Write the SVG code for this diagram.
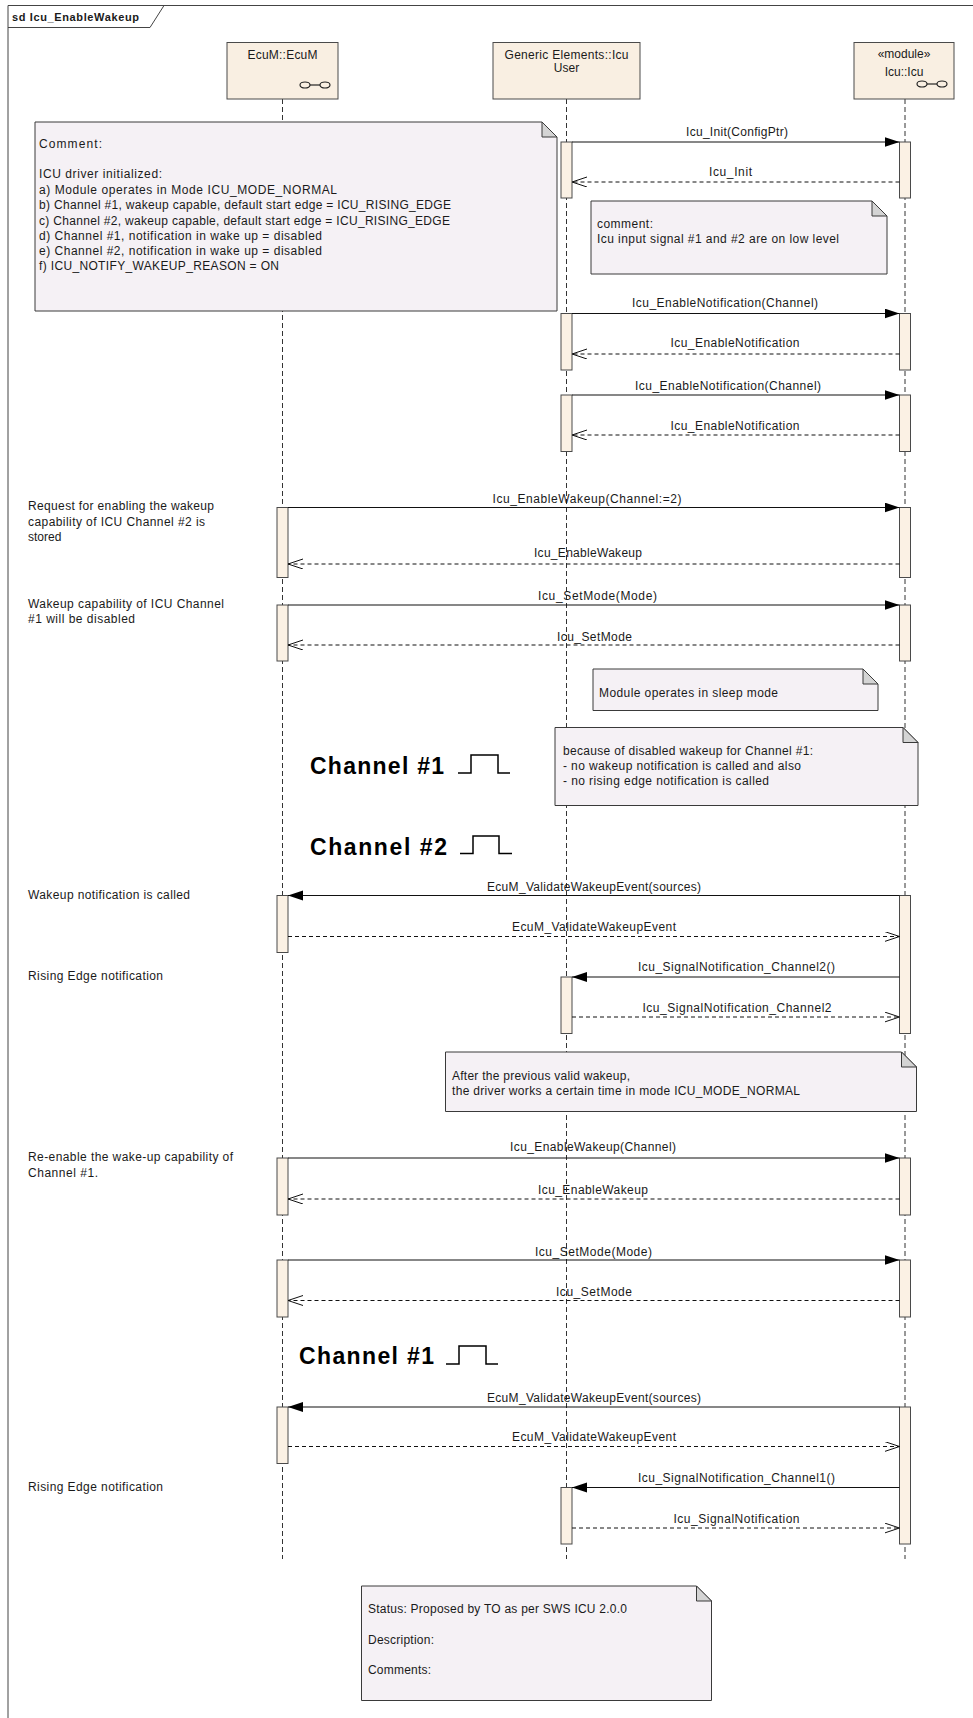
<svg xmlns="http://www.w3.org/2000/svg" width="973" height="1718" viewBox="0 0 973 1718">
<style>
text{font-family:"Liberation Sans",Arial,sans-serif;font-size:12px;fill:#1a1a1a}
.c{text-anchor:middle}
.title{font-weight:bold;font-size:11px}
.big{font-weight:bold;font-size:23px;fill:#000}
.hdr{fill:#F9EFE2;stroke:#4a4a4a;stroke-width:1}
.act{fill:#FBF1E4;stroke:#4a4a4a;stroke-width:1}
.note{fill:#F5F1F5;stroke:#3a3a3a;stroke-width:1}
.fold{fill:#D4D4D4;stroke:#3a3a3a;stroke-width:1}
.life{stroke:#333;stroke-width:1;stroke-dasharray:5,3;fill:none}
.call{stroke:#111;stroke-width:1.2;fill:none;marker-end:url(#fill)}
.ret{stroke:#111;stroke-width:1;fill:none;stroke-dasharray:4,3;marker-end:url(#open)}
.pulse{stroke:#000;stroke-width:1.5;fill:none}
.icon{fill:none;stroke:#222;stroke-width:1.2}
</style>
<defs>
<marker id="fill" markerUnits="userSpaceOnUse" markerWidth="16" markerHeight="12" refX="15" refY="5" orient="auto">
<path d="M0,0 L15,5 L0,10 z" fill="#000" stroke="none"/>
</marker>
<marker id="open" markerUnits="userSpaceOnUse" markerWidth="16" markerHeight="12" refX="15" refY="5" orient="auto">
<path d="M0,0 L15,5 L0,10" fill="none" stroke="#111" stroke-width="1" stroke-dasharray="none"/>
</marker>
</defs>
<rect x="0" y="0" width="973" height="1718" fill="#fff"/>

<g id="frame">
<path d="M8,1718 L8,5.5 L973,5.5" fill="none" stroke="#444" stroke-width="1"/>
<path d="M8,27.5 L150,27.5 L164,5.5" fill="none" stroke="#444" stroke-width="1"/>
<text class="title" x="12" y="21" textLength="127">sd Icu_EnableWakeup</text>
</g>

<g id="lifelines">
<line class="life" x1="282.5" y1="99" x2="282.5" y2="1559"/>
<line class="life" x1="566.5" y1="99" x2="566.5" y2="1559"/>
<line class="life" x1="905" y1="99" x2="905" y2="1559"/>
</g>

<g id="EcuM">
<rect class="hdr" x="227" y="42.5" width="111" height="56.5"/>
<text class="c" x="282.5" y="59" textLength="70">EcuM::EcuM</text>
<ellipse class="icon" cx="305" cy="85" rx="5" ry="3"/>
<ellipse class="icon" cx="325" cy="85" rx="5" ry="3"/>
<line class="icon" x1="310" y1="85" x2="320" y2="85"/>
</g>
<g id="IcuUser">
<rect class="hdr" x="493" y="42.5" width="147" height="56.5"/>
<text class="c" x="566.5" y="59" textLength="124">Generic Elements::Icu</text>
<text class="c" x="566.5" y="72">User</text>
</g>
<g id="Icu">
<rect class="hdr" x="854" y="42.5" width="100" height="56.5"/>
<text class="c" x="904" y="58">«module»</text>
<text class="c" x="904" y="76">Icu::Icu</text>
<ellipse class="icon" cx="922" cy="84" rx="5" ry="3"/>
<ellipse class="icon" cx="942" cy="84" rx="5" ry="3"/>
<line class="icon" x1="927" y1="84" x2="937" y2="84"/>
</g>

<g id="activations">
<rect class="act" x="561" y="142" width="11" height="56"/>
<rect class="act" x="561" y="313.5" width="11" height="56.5"/>
<rect class="act" x="561" y="395" width="11" height="56.5"/>
<rect class="act" x="561" y="977" width="11" height="56.5"/>
<rect class="act" x="561" y="1487.5" width="11" height="56.5"/>
<rect class="act" x="899.5" y="142" width="11" height="56"/>
<rect class="act" x="899.5" y="313.5" width="11" height="56.5"/>
<rect class="act" x="899.5" y="395" width="11" height="56.5"/>
<rect class="act" x="899.5" y="507.5" width="11" height="70"/>
<rect class="act" x="899.5" y="605" width="11" height="56"/>
<rect class="act" x="899.5" y="895.5" width="11" height="138"/>
<rect class="act" x="899.5" y="1158" width="11" height="57"/>
<rect class="act" x="899.5" y="1260" width="11" height="57"/>
<rect class="act" x="899.5" y="1407" width="11" height="137"/>
<rect class="act" x="277" y="507.5" width="11" height="70"/>
<rect class="act" x="277" y="605" width="11" height="56"/>
<rect class="act" x="277" y="895.5" width="11" height="57"/>
<rect class="act" x="277" y="1158" width="11" height="57"/>
<rect class="act" x="277" y="1260" width="11" height="57"/>
<rect class="act" x="277" y="1407" width="11" height="56.5"/>
</g>

<g id="connectors">
<line class="call" x1="572" y1="142" x2="899.5" y2="142"/>
<text class="c" x="737" y="136" textLength="102">Icu_Init(ConfigPtr)</text>
<line class="ret" x1="899.5" y1="182" x2="572" y2="182"/>
<text class="c" x="730.5" y="176" textLength="43">Icu_Init</text>

<line class="call" x1="572" y1="313.5" x2="899.5" y2="313.5"/>
<text class="c" x="725" y="307" textLength="186">Icu_EnableNotification(Channel)</text>
<line class="ret" x1="899.5" y1="354" x2="572" y2="354"/>
<text class="c" x="735" y="346.5" textLength="129">Icu_EnableNotification</text>

<line class="call" x1="572" y1="395" x2="899.5" y2="395"/>
<text class="c" x="728" y="390" textLength="186">Icu_EnableNotification(Channel)</text>
<line class="ret" x1="899.5" y1="435" x2="572" y2="435"/>
<text class="c" x="735" y="430" textLength="129">Icu_EnableNotification</text>

<line class="call" x1="288" y1="507.5" x2="899.5" y2="507.5"/>
<text class="c" x="587" y="503" textLength="189">Icu_EnableWakeup(Channel:=2)</text>
<line class="ret" x1="899.5" y1="564" x2="288" y2="564"/>
<text class="c" x="588" y="557" textLength="108">Icu_EnableWakeup</text>

<line class="call" x1="288" y1="605" x2="899.5" y2="605"/>
<text class="c" x="597.5" y="599.5" textLength="119">Icu_SetMode(Mode)</text>
<line class="ret" x1="899.5" y1="645" x2="288" y2="645"/>
<text class="c" x="594.5" y="640.5" textLength="75">Icu_SetMode</text>

<line class="call" x1="899.5" y1="895.5" x2="288" y2="895.5"/>
<text class="c" x="594" y="890.5" textLength="214">EcuM_ValidateWakeupEvent(sources)</text>
<line class="ret" x1="288" y1="936.5" x2="899.5" y2="936.5"/>
<text class="c" x="594" y="930.5" textLength="164">EcuM_ValidateWakeupEvent</text>

<line class="call" x1="899.5" y1="977" x2="572" y2="977"/>
<text class="c" x="736.5" y="971" textLength="197">Icu_SignalNotification_Channel2()</text>
<line class="ret" x1="572" y1="1017" x2="899.5" y2="1017"/>
<text class="c" x="737" y="1011.5" textLength="189">Icu_SignalNotification_Channel2</text>

<line class="call" x1="288" y1="1158" x2="899.5" y2="1158"/>
<text class="c" x="593" y="1151" textLength="166">Icu_EnableWakeup(Channel)</text>
<line class="ret" x1="899.5" y1="1199" x2="288" y2="1199"/>
<text class="c" x="593" y="1194" textLength="110">Icu_EnableWakeup</text>

<line class="call" x1="288" y1="1260" x2="899.5" y2="1260"/>
<text class="c" x="593.5" y="1255.5" textLength="117">Icu_SetMode(Mode)</text>
<line class="ret" x1="899.5" y1="1300.5" x2="288" y2="1300.5"/>
<text class="c" x="594" y="1295.5" textLength="76">Icu_SetMode</text>

<line class="call" x1="899.5" y1="1407" x2="288" y2="1407"/>
<text class="c" x="594" y="1401.5" textLength="214">EcuM_ValidateWakeupEvent(sources)</text>
<line class="ret" x1="288" y1="1446.5" x2="899.5" y2="1446.5"/>
<text class="c" x="594" y="1441" textLength="164">EcuM_ValidateWakeupEvent</text>

<line class="call" x1="899.5" y1="1487.5" x2="572" y2="1487.5"/>
<text class="c" x="736.5" y="1482" textLength="197">Icu_SignalNotification_Channel1()</text>
<line class="ret" x1="572" y1="1528" x2="899.5" y2="1528"/>
<text class="c" x="736.5" y="1523" textLength="126">Icu_SignalNotification</text>
</g>

<g id="note-init">
<path class="note" d="M35,122 L542,122 L557,137 L557,311 L35,311 Z"/>
<path class="fold" d="M542,122 L542,137 L557,137 Z"/>
<text x="39" y="147.5" textLength="63">Comment:</text>
<text x="39" y="178" textLength="123">ICU driver initialized:</text>
<text x="39" y="193.5" textLength="298">a) Module operates in Mode ICU_MODE_NORMAL</text>
<text x="39" y="209" textLength="412">b) Channel #1, wakeup capable, default start edge = ICU_RISING_EDGE</text>
<text x="39" y="224.5" textLength="411">c) Channel #2, wakeup capable, default start edge = ICU_RISING_EDGE</text>
<text x="39" y="240" textLength="283">d) Channel #1, notification in wake up = disabled</text>
<text x="39" y="255" textLength="283">e) Channel #2, notification in wake up = disabled</text>
<text x="39" y="270" textLength="240">f) ICU_NOTIFY_WAKEUP_REASON = ON</text>
</g>

<g id="note-low">
<path class="note" d="M591,201 L872,201 L887,216 L887,274 L591,274 Z"/>
<path class="fold" d="M872,201 L872,216 L887,216 Z"/>
<text x="597" y="228" textLength="56">comment:</text>
<text x="597" y="243" textLength="242">Icu input signal #1 and #2 are on low level</text>
</g>

<g id="note-sleep">
<path class="note" d="M593,669 L863,669 L878,684 L878,710.5 L593,710.5 Z"/>
<path class="fold" d="M863,669 L863,684 L878,684 Z"/>
<text x="599" y="697" textLength="179">Module operates in sleep mode</text>
</g>

<g id="note-disabled">
<path class="note" d="M555,727.5 L903,727.5 L918,742.5 L918,805.5 L555,805.5 Z"/>
<path class="fold" d="M903,727.5 L903,742.5 L918,742.5 Z"/>
<text x="563" y="755" textLength="250">because of disabled wakeup for Channel #1:</text>
<text x="563" y="770" textLength="238">- no wakeup notification is called and also</text>
<text x="563" y="785" textLength="206">- no rising edge notification is called</text>
</g>

<g id="note-after">
<path class="note" d="M445.5,1052 L901.5,1052 L916.5,1067 L916.5,1111.5 L445.5,1111.5 Z"/>
<path class="fold" d="M901.5,1052 L901.5,1067 L916.5,1067 Z"/>
<text x="452" y="1080" textLength="178">After the previous valid wakeup,</text>
<text x="452" y="1095" textLength="348">the driver works a certain time in mode ICU_MODE_NORMAL</text>
</g>

<g id="note-status">
<path class="note" d="M361.5,1586 L696.5,1586 L711.5,1601 L711.5,1700.5 L361.5,1700.5 Z"/>
<path class="fold" d="M696.5,1586 L696.5,1601 L711.5,1601 Z"/>
<text x="368" y="1613" textLength="259">Status: Proposed by TO as per SWS ICU 2.0.0</text>
<text x="368" y="1644" textLength="66">Description:</text>
<text x="368" y="1674" textLength="63">Comments:</text>
</g>

<g id="signals">
<text class="big" x="310" y="773.5" textLength="134">Channel #1</text>
<path class="pulse" d="M458,773 L471,773 L471,755 L498,755 L498,773 L510,773"/>
<text class="big" x="310" y="855" textLength="137">Channel #2</text>
<path class="pulse" d="M460,853.5 L473,853.5 L473,836 L499,836 L499,853.5 L512,853.5"/>
<text class="big" x="299" y="1364" textLength="135">Channel #1</text>
<path class="pulse" d="M446,1364 L459,1364 L459,1346 L486,1346 L486,1364 L498,1364"/>
</g>

<g id="side-notes">
<text x="28" y="510" textLength="186">Request for enabling the wakeup</text>
<text x="28" y="525.5" textLength="177">capability of ICU Channel #2 is</text>
<text x="28" y="541">stored</text>
<text x="28" y="608" textLength="196">Wakeup capability of ICU Channel</text>
<text x="28" y="623" textLength="107">#1 will be disabled</text>
<text x="28" y="899" textLength="162">Wakeup notification is called</text>
<text x="28" y="980" textLength="135">Rising Edge notification</text>
<text x="28" y="1161" textLength="205">Re-enable the wake-up capability of</text>
<text x="28" y="1176.5" textLength="70">Channel #1.</text>
<text x="28" y="1491" textLength="135">Rising Edge notification</text>
</g>
</svg>
